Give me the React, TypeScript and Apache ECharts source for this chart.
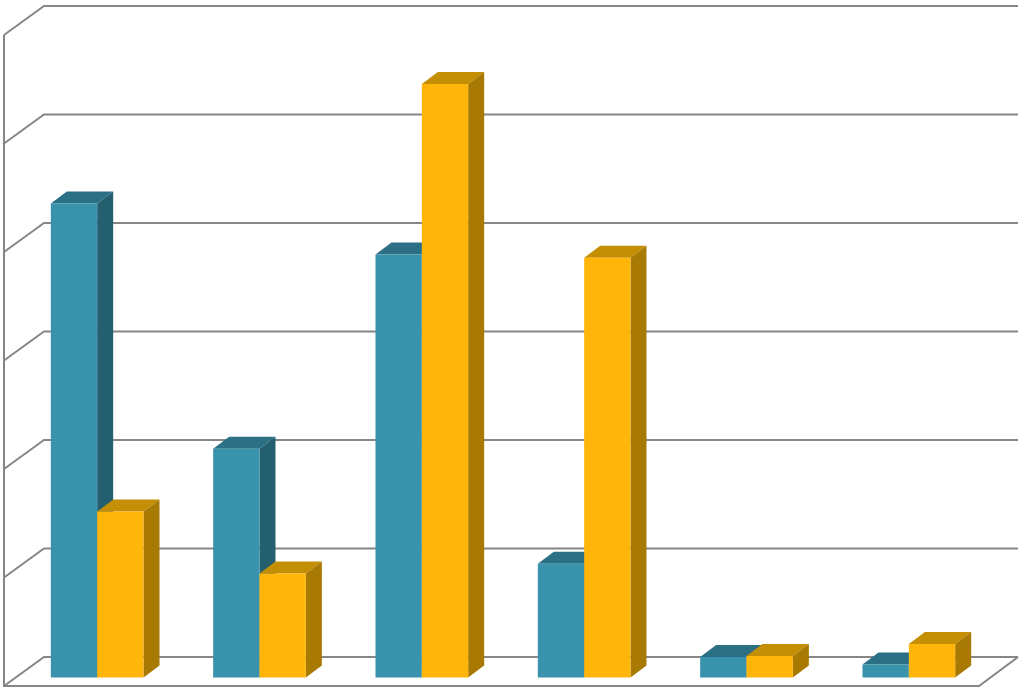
import React, { useEffect, useRef } from "react";
import * as echarts from "echarts";

const categories = ["A", "B", "C", "D", "E", "F"];
const blueValues = [4.37, 2.11, 3.9, 1.05, 0.19, 0.12];
const yellowValues = [1.53, 0.96, 5.47, 3.87, 0.2, 0.31];
const gridValues = [0, 1, 2, 3, 4, 5, 6];

const LINE = "#868686";
const DX = 16;
const DY = 12;
const BAR_SHARE = 0.2855;

function barSeries(name: string, values: number[], side: -1 | 1, front: string, top: string, right: string) {
  return {
    type: "custom",
    name,
    coordinateSystem: "cartesian2d",
    z: 3,
    data: values.map((v, i) => [i, v]),
    renderItem: (_p: any, api: any) => {
      const c = api.coord([api.value(0), api.value(1)]);
      const base = api.coord([api.value(0), 0]);
      const w = api.size([1, 0])[0] * BAR_SHARE;
      const x0 = side < 0 ? c[0] - w : c[0];
      const x1 = x0 + w;
      const y0 = c[1];
      const y1 = base[1];
      const poly = (points: number[][], fill: string) => ({
        type: "polygon",
        shape: { points },
        style: { fill, stroke: "none" },
      });
      return {
        type: "group",
        children: [
          poly([[x0, y0], [x1, y0], [x1 + DX, y0 - DY], [x0 + DX, y0 - DY]], top),
          poly([[x1, y0], [x1 + DX, y0 - DY], [x1 + DX, y1 - DY], [x1, y1]], right),
          poly([[x0, y0], [x1, y0], [x1, y1], [x0, y1]], front),
        ],
      };
    },
  };
}

export default function App() {
  const ref = useRef<HTMLDivElement>(null);
  useEffect(() => {
    const chart = echarts.init(ref.current!, undefined, { renderer: "svg" });
    chart.setOption({
      animation: false,
      backgroundColor: "#ffffff",
      grid: { left: 16, top: 26.6, width: 974, height: 651 },
      xAxis: { type: "category", data: categories, show: false },
      yAxis: { type: "value", min: 0, max: 6, interval: 1, show: false },
      series: [
        {
          type: "custom",
          coordinateSystem: "cartesian2d",
          z: 1,
          data: gridValues.map((v) => [0, v]),
          renderItem: (p: any, api: any) => {
            const y = api.coord([0, api.value(1)])[1] - 0.6;
            const s = p.coordSys;
            const top = s.y - 0.6;
            const line = (points: number[][]) => ({
              type: "polyline",
              shape: { points },
              style: { fill: "none", stroke: LINE, lineWidth: 2 },
            });
            const children: any[] = [
              line([[s.x - 12, y + 9], [s.x + 28, y - 20], [s.x + s.width + 28, y - 20]]),
            ];
            if (api.value(1) === 0) {
              children.push(
                line([[s.x - 12, top + 9], [s.x - 12, y + 9], [s.x + s.width - 11, y + 9], [s.x + s.width + 28, y - 20]])
              );
            }
            return { type: "group", children };
          },
        },
        barSeries("Blue", blueValues, -1, "#3A93AC", "#2B7085", "#245F6F"),
        barSeries("Yellow", yellowValues, 1, "#FFB50A", "#C48F04", "#A87A03"),
      ],
    } as any);
    return () => chart.dispose();
  }, []);
  return <div ref={ref} style={{ position: "absolute", left: 0, top: 0, width: 1024, height: 690 }} />;
}
